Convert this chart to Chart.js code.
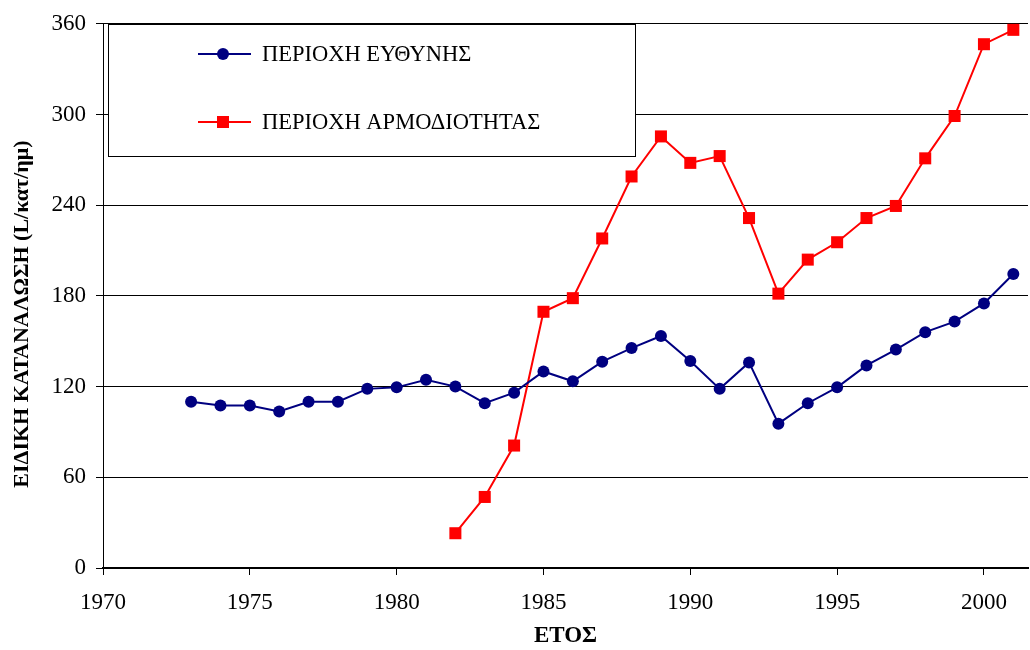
<!DOCTYPE html>
<html>
<head>
<meta charset="utf-8">
<script src="https://cdn.jsdelivr.net/npm/chart.js@4"></script>
<style>
  html, body { margin: 0; background: #fff; overflow: hidden; }
  #wrap { width: 1030px; height: 650px; }
</style>
</head>
<body>
<div id="wrap"><canvas id="chart"></canvas></div>
<script>
const years = [1973, 1974, 1975, 1976, 1977, 1978, 1979, 1980, 1981, 1982, 1983, 1984, 1985, 1986, 1987,
    1988, 1989, 1990, 1991, 1992, 1993, 1994, 1995, 1996, 1997, 1998, 1999, 2000, 2001];
const responsibility = [110, 107.5, 107.5, 103.5, 110, 110, 118.5, 119.5, 124.5, 120, 109, 116, 130, 123.5, 136.5,
    145.5, 153.5, 137, 118.5, 136, 95.5, 109, 119.5, 134, 144.5, 156, 163, 175, 194.5];
const compYears = [1982, 1983, 1984, 1985, 1986, 1987, 1988, 1989, 1990, 1991, 1992, 1993, 1994, 1995, 1996,
    1997, 1998, 1999, 2000, 2001];
const competence = [23, 47, 81, 169.5, 178.5, 218, 259, 285.5, 268, 272.5, 231.5, 181.5, 204, 215.5, 231.5,
    239.5, 271, 299, 346.5, 356];
const seriesNames = ['ΠΕΡΙΟΧΗ ΕΥΘΥΝΗΣ', 'ΠΕΡΙΟΧΗ ΑΡΜΟΔΙΟΤΗΤΑΣ'];
const xTicks = [1970, 1975, 1980, 1985, 1990, 1995, 2000];
const yTitle = 'ΕΙΔΙΚΗ ΚΑΤΑΝΑΛΩΣΗ (L/κατ/ημ)';
const xTitle = 'ΕΤΟΣ';

const serif = '"Liberation Serif", "Times New Roman", serif';

// legend box inside the plot + y title a bit below centre, like the Excel original
const boxLegend = {
    id: 'boxLegend',
    afterDraw(chart) {
        const { ctx } = chart;
        ctx.save();
        ctx.fillStyle = '#fff';
        ctx.fillRect(108, 24, 528, 133);
        ctx.strokeStyle = '#000';
        ctx.lineWidth = 1;
        ctx.strokeRect(108.5, 24.5, 527, 132);
        const rows = [54, 122];
        chart.data.datasets.forEach((ds, i) => {
            const y = rows[i];
            ctx.strokeStyle = ds.borderColor;
            ctx.lineWidth = 2;
            ctx.beginPath();
            ctx.moveTo(198, y);
            ctx.lineTo(251, y);
            ctx.stroke();
            ctx.fillStyle = ds.backgroundColor;
            if (ds.pointStyle === 'rect') {
                ctx.fillRect(217, y - 6, 12, 12);
            } else {
                ctx.beginPath();
                ctx.arc(223, y, 6, 0, Math.PI * 2);
                ctx.fill();
            }
            ctx.fillStyle = '#000';
            ctx.font = '22.5px ' + serif;
            ctx.textBaseline = 'middle';
            ctx.fillText(ds.label, 262, y + 1);
        });

        ctx.translate(22, 314);
        ctx.rotate(-Math.PI / 2);
        ctx.textAlign = 'center';
        ctx.textBaseline = 'middle';
        ctx.font = 'bold 22px ' + serif;
        ctx.fillText(yTitle, 0, 0);
        ctx.restore();
    }
};

const config = {
    type: 'line',
    data: {
        datasets: [
            {
                label: seriesNames[0],
                data: years.map((x, i) => ({ x: x, y: responsibility[i] })),
                borderColor: '#000080',
                backgroundColor: '#000080',
                borderWidth: 2,
                pointStyle: 'circle',
                pointRadius: 6,
                pointBorderWidth: 0,
                tension: 0
            },
            {
                label: seriesNames[1],
                data: compYears.map((x, i) => ({ x: x, y: competence[i] })),
                borderColor: '#ff0000',
                backgroundColor: '#ff0000',
                borderWidth: 2,
                pointStyle: 'rect',
                pointRadius: 8.5,
                pointBorderWidth: 0,
                tension: 0,
                clip: false
            }
        ]
    },
    options: {
        responsive: true,
        maintainAspectRatio: false,
        animation: false,
        layout: { autoPadding: false, padding: { top: 22, right: 2, bottom: 0, left: 0 } },
        plugins: {
            legend: { display: false },
            tooltip: { enabled: false }
        },
        scales: {
            x: {
                type: 'linear',
                min: 1970,
                max: 2001.5,
                afterBuildTicks(scale) {
                    scale.ticks = xTicks.map(v => ({ value: v }));
                },
                afterFit(scale) {
                    scale.height = 82;
                    scale.paddingLeft = 0;
                    scale.paddingRight = 0;
                },
                ticks: {
                    color: '#000',
                    font: { family: serif, size: 23 },
                    padding: 14,
                    maxRotation: 0,
                    autoSkip: false,
                    callback: v => String(v)
                },
                grid: {
                    drawOnChartArea: false,
                    drawTicks: true,
                    tickLength: 7,
                    color: '#000',
                    lineWidth: 1
                },
                border: { color: '#000', width: 2 },
                title: {
                    display: true,
                    text: xTitle,
                    color: '#000',
                    font: { family: serif, size: 23, weight: 'bold' },
                    padding: { top: 2, bottom: 0 }
                }
            },
            y: {
                min: 0,
                max: 360,
                afterFit(scale) { scale.width = 103; },
                ticks: {
                    stepSize: 60,
                    color: '#000',
                    font: { family: serif, size: 23 },
                    padding: 10
                },
                grid: {
                    color: '#000',
                    lineWidth: 1,
                    tickLength: 7
                },
                border: { color: '#000', width: 1 }
            }
        }
    },
    plugins: [boxLegend]
};

new Chart(document.getElementById('chart'), config);
</script>
</body>
</html>
